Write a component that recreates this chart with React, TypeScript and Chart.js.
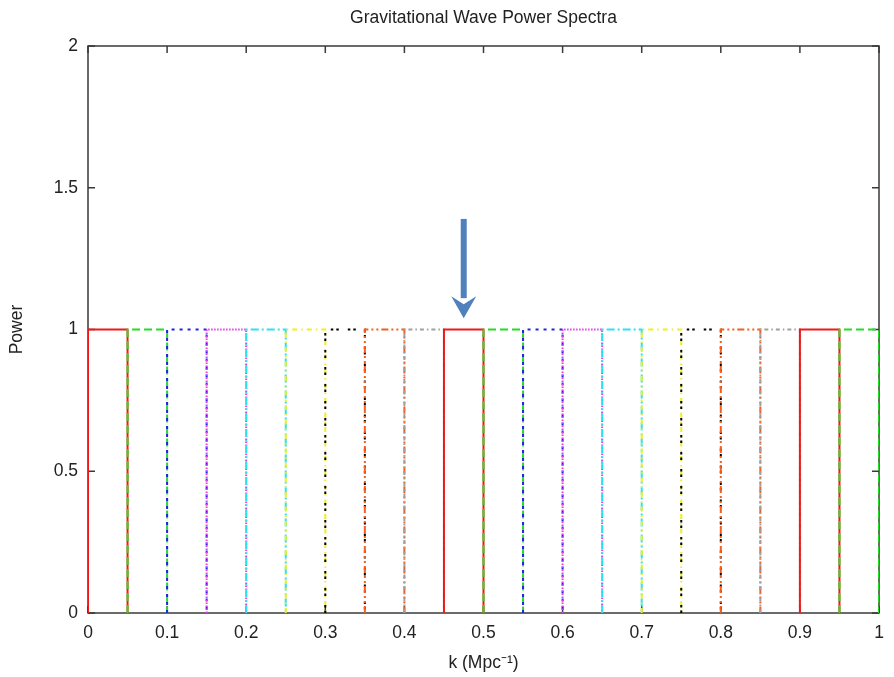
import React, { useEffect, useRef } from "react";
import { Chart, registerables } from "chart.js";

Chart.register(...registerables);

// k bin edges (Mpc^-1) and the power of each top-hat bin
const BIN_EDGES = [0, 0.05, 0.1, 0.15, 0.2, 0.25, 0.3, 0.35, 0.4, 0.45, 0.5, 0.55, 0.6, 0.65, 0.7, 0.75, 0.8, 0.85, 0.9, 0.95, 1];
const BIN_POWER = [1, 1, 1, 1, 1, 1, 1, 1, 1, 1, 1, 1, 1, 1, 1, 1, 1, 1, 1, 1];

// gnuplot line-type cycle (colour + dash pattern)
const SERIES_COLORS = ["#f01818", "#22dd22", "#2222e0", "#e040e8", "#30e0f0", "#f0ee20", "#000000", "#f06020", "#a0a0a0"];
const SERIES_DASHES = [[], [8, 4], [3, 5], [1.5, 1.5], [8, 3, 2, 3], [5, 4, 1.5, 4], [2.5, 3, 2.5, 9], [7, 3, 2, 3, 2, 3], [4, 3, 1.5, 3]];

const X_TICKS = [0, 0.1, 0.2, 0.3, 0.4, 0.5, 0.6, 0.7, 0.8, 0.9, 1];
const Y_TICKS = [0, 0.5, 1, 1.5, 2];

const TITLE = "Gravitational Wave Power Spectra";
const X_TITLE = "k (Mpc\u207B\u00B9)";
const Y_TITLE = "Power";

// annotation arrow (k position, from power, to power)
const ARROW_K = 0.475;
const ARROW_FROM = 1.39;
const ARROW_TO = 1.04;

const FONT = "'Liberation Sans', Arial, Helvetica, sans-serif";

const framePlugin = {
  id: "frame",
  beforeDatasetsDraw(chart: any) {
    const { ctx, chartArea: a, scales } = chart;
    ctx.save();
    ctx.strokeStyle = "#3a3a3a";
    ctx.lineWidth = 1.5;
    ctx.strokeRect(a.left, a.top, a.right - a.left, a.bottom - a.top);
    ctx.beginPath();
    X_TICKS.forEach((v) => {
      const px = scales.x.getPixelForValue(v);
      ctx.moveTo(px, a.bottom);
      ctx.lineTo(px, a.bottom - 7);
      ctx.moveTo(px, a.top);
      ctx.lineTo(px, a.top + 7);
    });
    Y_TICKS.forEach((v) => {
      const py = scales.y.getPixelForValue(v);
      ctx.moveTo(a.left, py);
      ctx.lineTo(a.left + 7, py);
      ctx.moveTo(a.right, py);
      ctx.lineTo(a.right - 7, py);
    });
    ctx.stroke();
    ctx.restore();
  },
};

const arrowPlugin = {
  id: "arrow",
  afterDatasetsDraw(chart: any) {
    const { ctx, scales } = chart;
    const x = scales.x.getPixelForValue(ARROW_K);
    const y0 = scales.y.getPixelForValue(ARROW_FROM);
    const y1 = scales.y.getPixelForValue(ARROW_TO);
    const headLen = 22;
    const headHalf = 12.5;
    ctx.save();
    ctx.fillStyle = "#4f81bd";
    ctx.fillRect(x - 3, y0, 6, y1 - y0 - headLen + 2);
    ctx.beginPath();
    ctx.moveTo(x - headHalf, y1 - headLen);
    ctx.lineTo(x, y1 - headLen + 8);
    ctx.lineTo(x + headHalf, y1 - headLen);
    ctx.lineTo(x, y1);
    ctx.closePath();
    ctx.fill();
    ctx.restore();
  },
};

export default function App() {
  const canvasRef = useRef<HTMLCanvasElement | null>(null);

  useEffect(() => {
    if (!canvasRef.current) return;
    const datasets = BIN_POWER.map((p, i) => {
      const x0 = BIN_EDGES[i];
      const x1 = BIN_EDGES[i + 1];
      const s = i % SERIES_COLORS.length;
      return {
        label: `bin ${i + 1}`,
        data: [
          { x: x0, y: 0 },
          { x: x0, y: p },
          { x: x1, y: p },
          { x: x1, y: 0 },
        ],
        showLine: true,
        fill: false,
        tension: 0,
        pointRadius: 0,
        borderWidth: 2,
        borderColor: SERIES_COLORS[s],
        borderDash: SERIES_DASHES[s],
        order: -i,
      };
    });

    const chart = new Chart(canvasRef.current, {
      type: "scatter",
      data: { datasets },
      plugins: [framePlugin, arrowPlugin],
      options: {
        animation: false,
        responsive: false,
        devicePixelRatio: 1,
        layout: { padding: { left: 0, right: 15, top: 0, bottom: 0 } },
        plugins: {
          legend: { display: false },
          tooltip: { enabled: false },
          title: {
            display: true,
            text: TITLE,
            fullSize: false,
            color: "#222",
            font: { family: FONT, size: 17.5, weight: "normal" },
            padding: { top: 7.5, bottom: 17.5 },
          },
        },
        scales: {
          x: {
            type: "linear",
            min: 0,
            max: 1,
            grid: { display: false, drawTicks: false },
            border: { display: false },
            afterBuildTicks: (scale: any) => {
              scale.ticks = X_TICKS.map((v) => ({ value: v }));
            },
            afterFit: (scale: any) => {
              scale.height = 64;
            },
            ticks: {
              padding: 10,
              color: "#222",
              maxRotation: 0,
              font: { family: FONT, size: 17.5 },
              callback: (v: any) => String(Number(v)),
            },
            title: {
              display: true,
              text: X_TITLE,
              color: "#222",
              font: { family: FONT, size: 17.5 },
              padding: { top: 0, bottom: 3.5 },
            },
          },
          y: {
            type: "linear",
            min: 0,
            max: 2,
            grid: { display: false, drawTicks: false },
            border: { display: false },
            afterBuildTicks: (scale: any) => {
              scale.ticks = Y_TICKS.map((v) => ({ value: v }));
            },
            afterFit: (scale: any) => {
              scale.width = 88;
            },
            ticks: {
              padding: 10,
              color: "#222",
              font: { family: FONT, size: 17.5 },
              callback: (v: any) => String(Number(v)),
            },
            title: {
              display: true,
              text: Y_TITLE,
              color: "#222",
              font: { family: FONT, size: 17.5 },
              padding: { top: 6.5, bottom: 0 },
            },
          },
        },
      },
    } as any);

    return () => chart.destroy();
  }, []);

  return (
    <div style={{ position: "fixed", left: 0, top: 0, width: 894, height: 677, background: "#fff" }}>
      <canvas ref={canvasRef} width={894} height={677} style={{ display: "block", width: 894, height: 677 }} />
    </div>
  );
}
